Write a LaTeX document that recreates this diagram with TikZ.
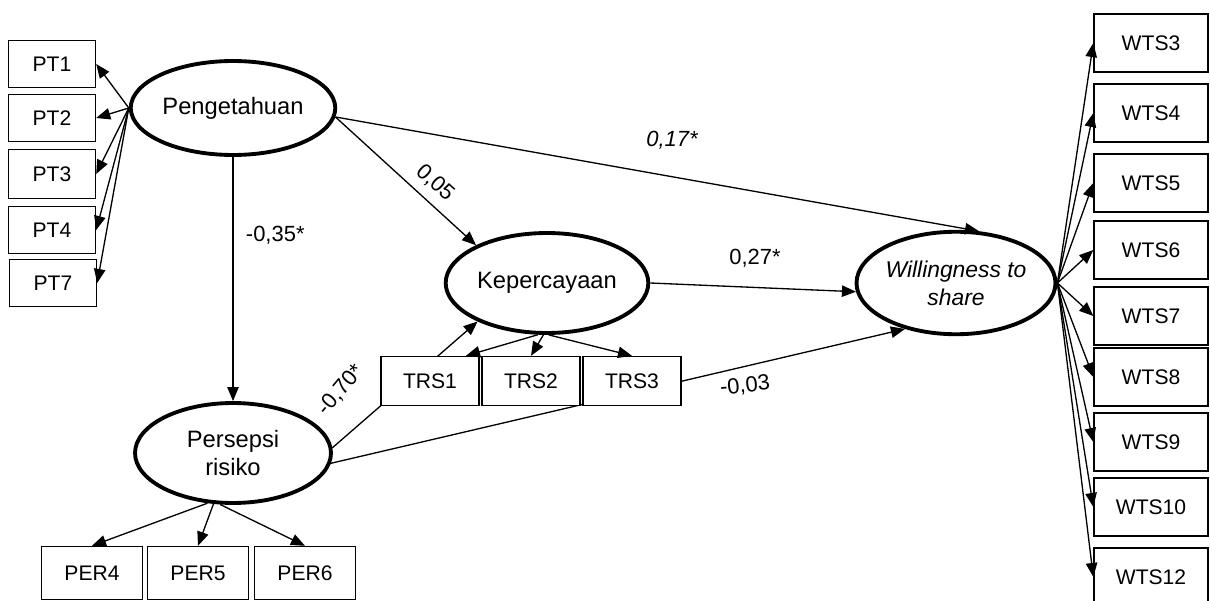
\documentclass[tikz,border=0pt]{standalone}
\usepackage{fontspec}
\setmainfont{Liberation Sans}
\usetikzlibrary{shapes.geometric,arrows.meta,backgrounds}

\tikzset{
  lat/.style={ellipse, draw, line width=2.2pt, minimum width=3.92cm, minimum height=2cm, inner sep=1pt, align=center, font=\fontsize{13.5}{16}\selectfont},
  ind/.style={rectangle, draw, line width=0.8pt, fill=white, inner sep=1pt, font=\fontsize{12}{14}\selectfont},
  arr/.style={line width=0.75pt, -{Triangle[length=8pt,width=6.5pt]}},
  lbl/.style={font=\fontsize{12.5}{15}\selectfont, inner sep=1pt}
}

\begin{document}
\begin{tikzpicture}[x=0.02cm, y=-0.02cm]
\useasboundingbox (0,0) rectangle (1210,601);

% latent variables
\node[lat, minimum height=1.88cm] (peng) at (233,108) {Pengetahuan};
\node[lat] (pers) at (233,453) {Persepsi\\risiko};
\node[lat] (kep) at (547,283) {Kepercayaan};
\node[lat, inner sep=0pt, font=\fontsize{13}{16}\selectfont, minimum width=3.96cm, minimum height=2.05cm] (wil) at (956,283) {\itshape Willingness to\\\itshape share};

% indicators
\node[ind, minimum width=1.74cm, minimum height=0.94cm] (pt1) at (52,64) {PT1};
\node[ind, minimum width=1.74cm, minimum height=0.94cm] (pt2) at (52,118) {PT2};
\node[ind, minimum width=1.74cm, minimum height=0.98cm] (pt3) at (52,174) {PT3};
\node[ind, minimum width=1.74cm, minimum height=0.94cm] (pt4) at (52,230) {PT4};
\node[ind, minimum width=1.74cm, minimum height=0.94cm] (pt7) at (53,283) {PT7};

\node[ind, minimum width=2.02cm, minimum height=1.06cm] (per4) at (92,573) {PER4};
\node[ind, minimum width=2.02cm, minimum height=1.06cm] (per5) at (198,573) {PER5};
\node[ind, minimum width=2.02cm, minimum height=1.06cm] (per6) at (305,573) {PER6};

\node[ind, minimum width=1.96cm, minimum height=0.98cm] (trs1) at (430,381) {TRS1};
\node[ind, minimum width=1.96cm, minimum height=0.98cm] (trs2) at (531,381) {TRS2};
\node[ind, minimum width=1.96cm, minimum height=0.98cm] (trs3) at (632,381) {TRS3};

\foreach \n/\y in {3/43,4/113,5/183,6/250,7/316,8/377,9/442,10/507,12/577} {
  \node[ind, minimum width=2.28cm, minimum height=1.16cm] (wts\n) at (1151,\y) {WTS\n};
  \draw[arr] (wil.east) -- (wts\n.west);
}

% loadings
\draw[arr] (peng.west) -- (pt1.east);
\draw[arr] (peng.west) -- (pt2.east);
\draw[arr] (peng.west) -- (pt3.east);
\draw[arr] (peng.west) -- (pt4.east);
\draw[arr] (peng.west) -- (pt7.east);

\draw[arr] (pers.243) -- (per4.north);
\draw[arr] (pers.249) -- (per5.north);
\draw[arr] (pers.256) -- (per6.north);

\draw[arr] (kep.260) -- (trs1.35);
\draw[arr] (kep.266) -- (trs2.north);
\draw[arr] (kep.272) -- (trs3.north);

% paths
\draw[arr] (peng.south) -- node[lbl, right=6pt, pos=0.32] {-0,35*} (pers.north);
\draw[arr] (peng.-5) -- (kep.152);
\draw[arr] (peng.-5) -- (wil.66);
\draw[arr] (kep.east) -- (wil.185);
\begin{pgfonlayer}{background}
\draw[arr] (pers.3) -- (kep.209);
\draw[arr] (pers.-6) -- (wil.222);
\end{pgfonlayer}

\node[lbl, rotate=-42] (l05) at (435,183) {0,05};
\node[lbl] (l17) at (672,140) {\itshape 0,17*};
\node[lbl] (l27) at (755,258) {0,27*};
\node[lbl, rotate=6] (l03) at (745,386) {-0,03};
\node[lbl, rotate=50] (l70) at (341,390) {-0,70*};
\end{tikzpicture}
\end{document}
